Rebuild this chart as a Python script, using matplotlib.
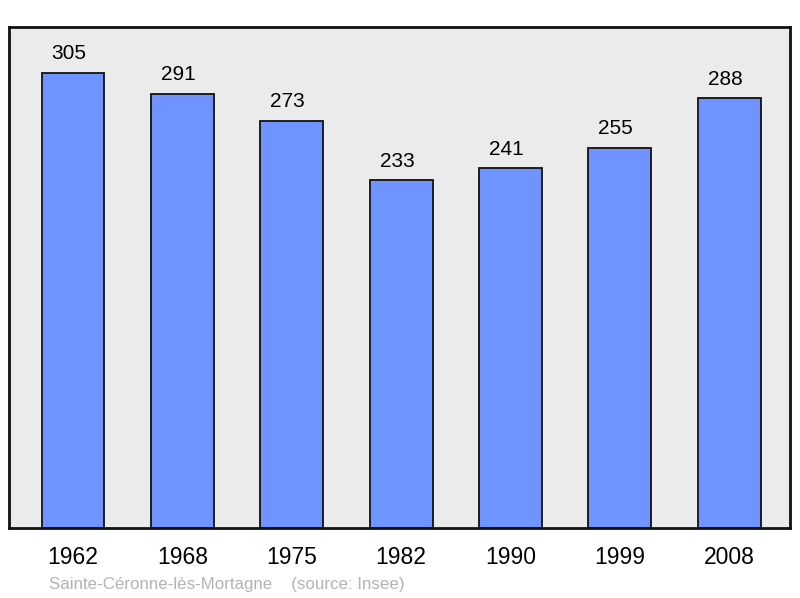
import matplotlib.pyplot as plt
import numpy as np

plt.rcParams['font.family'] = ['Liberation Sans', 'DejaVu Sans']

years = ['1962', '1968', '1975', '1982', '1990', '1999', '2008']
population = [305, 291, 273, 233, 241, 255, 288]
town = 'Sainte-Céronne-lès-Mortagne'
source = '(source: Insee)'

fig = plt.figure(figsize=(8, 5.98), dpi=100)
ax = fig.add_axes([9 / 800, 70 / 598, 781 / 800, 501 / 598])
ax.set_facecolor('#ebebeb')

x = np.arange(len(years))
ax.bar(x, population, width=0.575, color='#7094ff', edgecolor='#111111',
       linewidth=1.3, zorder=2)

for xi, v in zip(x, population):
    ax.annotate(str(v), (xi, v), xytext=(-3, 7), textcoords='offset points',
                ha='center', va='bottom', fontsize=15)

ax.set_xlim(-0.585, 6.555)
ax.set_ylim(0, 335.8)
ax.set_yticks([])
ax.set_xticks(x)
ax.set_xticklabels(years, fontsize=16.5)
ax.tick_params(axis='x', length=0, pad=13)
for s in ax.spines.values():
    s.set_linewidth(2)
    s.set_color('#111111')

fig.text(49 / 800, 1 - 584 / 598, town + '    ' + source, fontsize=12.2,
         color='#b3b3b3', va='center', ha='left')

fig.savefig('out.png', dpi=100, facecolor='white')
